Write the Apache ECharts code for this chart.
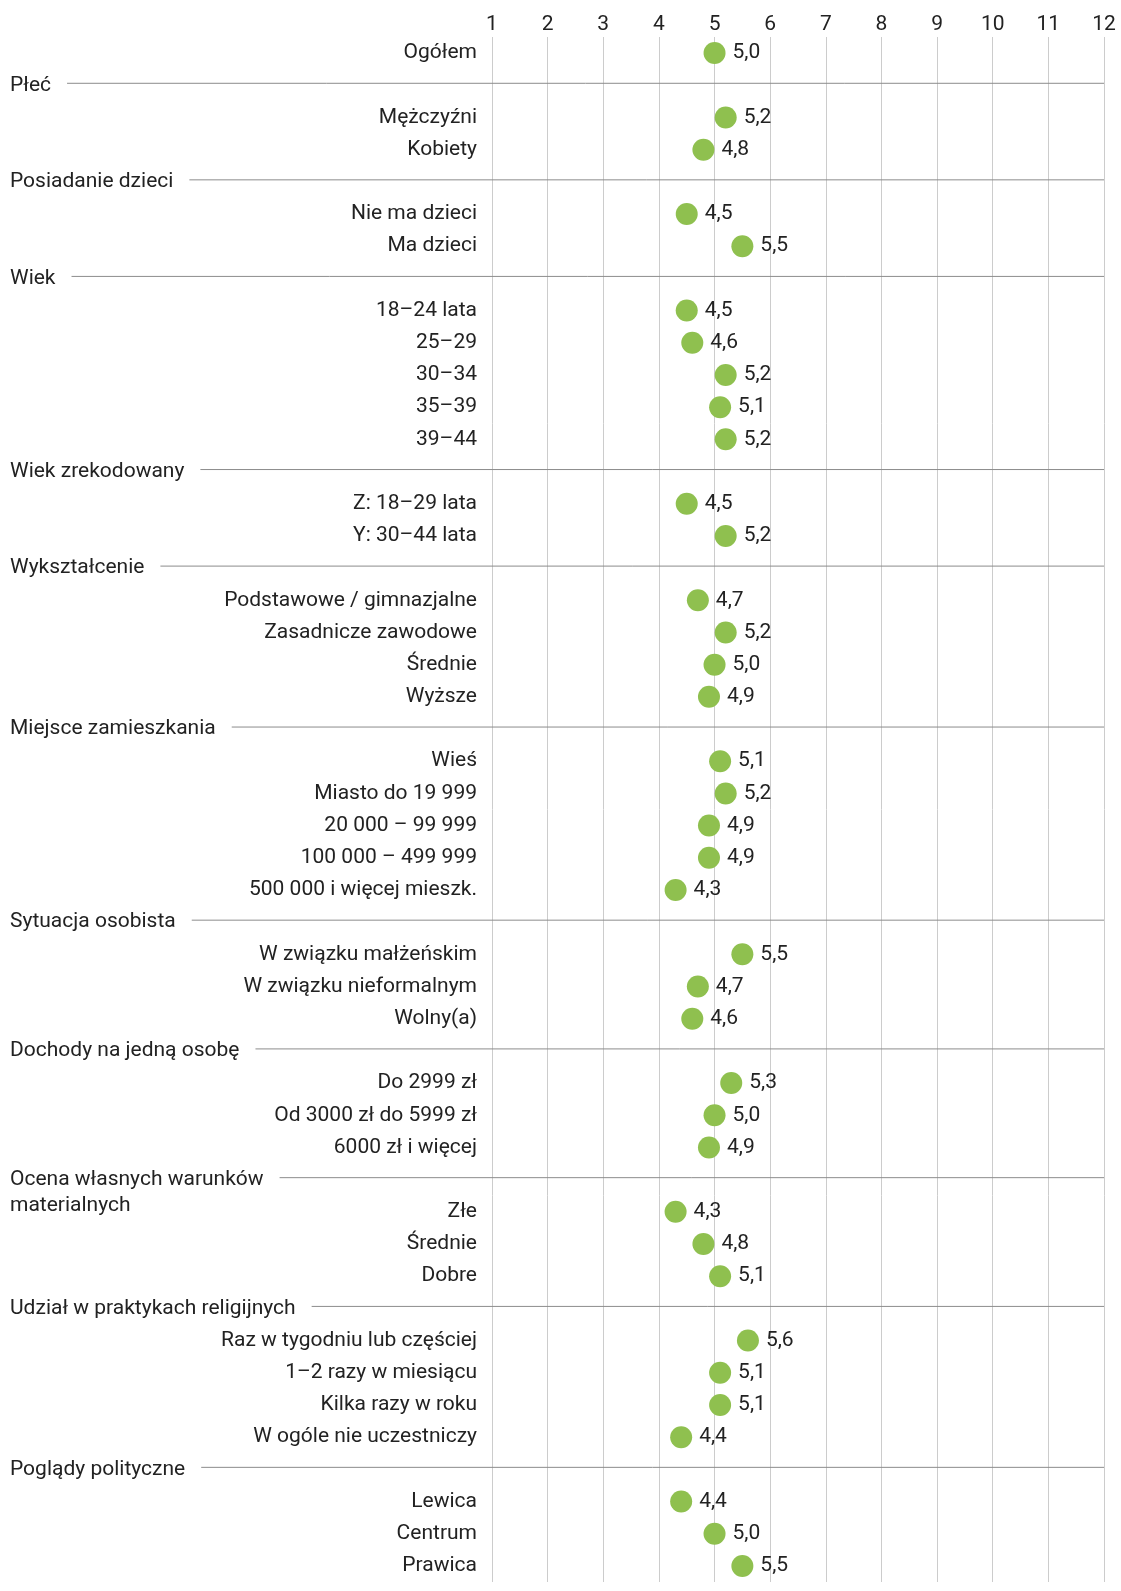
<!DOCTYPE html>
<html>
<head>
<meta charset="utf-8">
<script src="https://cdn.jsdelivr.net/npm/echarts@6/dist/echarts.min.js"></script>
<style>
    html, body { margin: 0; padding: 0; background: #fff; }
    #main { width: 1121px; height: 1591px; }
</style>
</head>
<body>
<div id="main"></div>
<script>
// dane
var overallLabel = "Ogółem";
var overallValue = 5.0;

var groupNames = [
    "Płeć",
    "Posiadanie dzieci",
    "Wiek",
    "Wiek zrekodowany",
    "Wykształcenie",
    "Miejsce zamieszkania",
    "Sytuacja osobista",
    "Dochody na jedną osobę",
    "Ocena własnych warunków\nmaterialnych",
    "Udział w praktykach religijnych",
    "Poglądy polityczne"
];

var plecLabels = ["Mężczyźni", "Kobiety"];
var plecValues = [5.2, 4.8];
var dzieciLabels = ["Nie ma dzieci", "Ma dzieci"];
var dzieciValues = [4.5, 5.5];
var wiekLabels = ["18–24 lata", "25–29", "30–34", "35–39", "39–44"];
var wiekValues = [4.5, 4.6, 5.2, 5.1, 5.2];
var wiekZLabels = ["Z: 18–29 lata", "Y: 30–44 lata"];
var wiekZValues = [4.5, 5.2];
var wyksztLabels = ["Podstawowe / gimnazjalne", "Zasadnicze zawodowe", "Średnie", "Wyższe"];
var wyksztValues = [4.7, 5.2, 5.0, 4.9];
var miejsceLabels = ["Wieś", "Miasto do 19 999", "20 000 – 99 999", "100 000 – 499 999", "500 000 i więcej mieszk."];
var miejsceValues = [5.1, 5.2, 4.9, 4.9, 4.3];
var sytuacjaLabels = ["W związku małżeńskim", "W związku nieformalnym", "Wolny(a)"];
var sytuacjaValues = [5.5, 4.7, 4.6];
var dochodyLabels = ["Do 2999 zł", "Od 3000 zł do 5999 zł", "6000 zł i więcej"];
var dochodyValues = [5.3, 5.0, 4.9];
var ocenaLabels = ["Złe", "Średnie", "Dobre"];
var ocenaValues = [4.3, 4.8, 5.1];
var religiaLabels = ["Raz w tygodniu lub częściej", "1–2 razy w miesiącu", "Kilka razy w roku", "W ogóle nie uczestniczy"];
var religiaValues = [5.6, 5.1, 5.1, 4.4];
var poglądyLabels = ["Lewica", "Centrum", "Prawica"];
var poglądyValues = [4.4, 5.0, 5.5];

var xMin = 1, xMax = 12;

(function() {
    var groupLabels = [plecLabels, dzieciLabels, wiekLabels, wiekZLabels, wyksztLabels,
        miejsceLabels, sytuacjaLabels, dochodyLabels, ocenaLabels, religiaLabels, poglądyLabels];
    var groupValues = [plecValues, dzieciValues, wiekValues, wiekZValues, wyksztValues,
        miejsceValues, sytuacjaValues, dochodyValues, ocenaValues, religiaValues, poglądyValues];

    // wiersze osi: nagłówki grup zajmują własny wiersz (pusty podpis)
    var rows = [overallLabel];
    var points = [[overallValue, 0]];
    var headers = [];
    groupNames.forEach(function(name, g) {
        headers.push([name, rows.length]);
        rows.push("");
        groupLabels[g].forEach(function(lab, i) {
            points.push([groupValues[g][i], rows.length]);
            rows.push(lab);
        });
    });

    var FONT = "Roboto, 'Noto Sans', sans-serif";
    var FS = 21;
    var ctx = document.createElement("canvas").getContext("2d");
    ctx.font = FS + "px Roboto";
    function textWidth(s) {
        return Math.max.apply(null, s.split("\n").map(function(l) { return ctx.measureText(l).width; }));
    }

    var myChart = echarts.init(document.getElementById("main"));
    var option = {
        animation: false,
        textStyle: { fontFamily: FONT },
        grid: {
            left: 492,
            right: 17,
            top: 37,
            bottom: 9
        },
        xAxis: {
            type: "value",
            position: "top",
            min: xMin,
            max: xMax,
            interval: 1,
            axisLine: { show: false },
            axisTick: { show: false },
            axisLabel: { color: "#222", fontSize: FS, margin: 2, fontFamily: FONT },
            splitLine: { lineStyle: { color: "#cccccc", width: 1 } }
        },
        yAxis: {
            type: "category",
            inverse: true,
            data: rows,
            axisLine: { show: false },
            axisTick: { show: false },
            splitLine: { show: false },
            axisLabel: { color: "#222", fontSize: FS, margin: 15, fontFamily: FONT, interval: 0 }
        },
        series: [{
            type: "custom",
            clip: false,
            silent: true,
            data: headers.map(function(h) { return [xMax, h[1], h[0]]; }),
            renderItem: function(params, api) {
                var name = headers[params.dataIndex][0];
                var right = api.coord([xMax, api.value(1)]);
                var y = right[1];
                var x0 = 10 + textWidth(name) + 16;
                return {
                    type: "group",
                    children: [{
                        type: "text",
                        style: {
                            text: name,
                            x: 10,
                            y: y - 13,
                            fill: "#222",
                            font: FS + "px " + FONT,
                            lineHeight: 26,
                            verticalAlign: "top"
                        }
                    }, {
                        type: "line",
                        shape: { x1: x0, y1: y - 2, x2: right[0], y2: y - 2 },
                        style: { stroke: "#8c8c8c", lineWidth: 1 }
                    }]
                };
            }
        }, {
            type: "scatter",
            data: points,
            symbolSize: 22,
            itemStyle: { color: "#8fc04f", opacity: 1 },
            label: {
                show: true,
                position: "right",
                distance: 7,
                color: "#222",
                fontSize: FS,
                fontFamily: FONT,
                formatter: function(p) { return p.value[0].toFixed(1).replace(".", ","); }
            }
        }]
    };
    myChart.setOption(option);
    window.addEventListener("resize", function() {
        myChart.resize();
    });
})();
</script>
</body>
</html>
